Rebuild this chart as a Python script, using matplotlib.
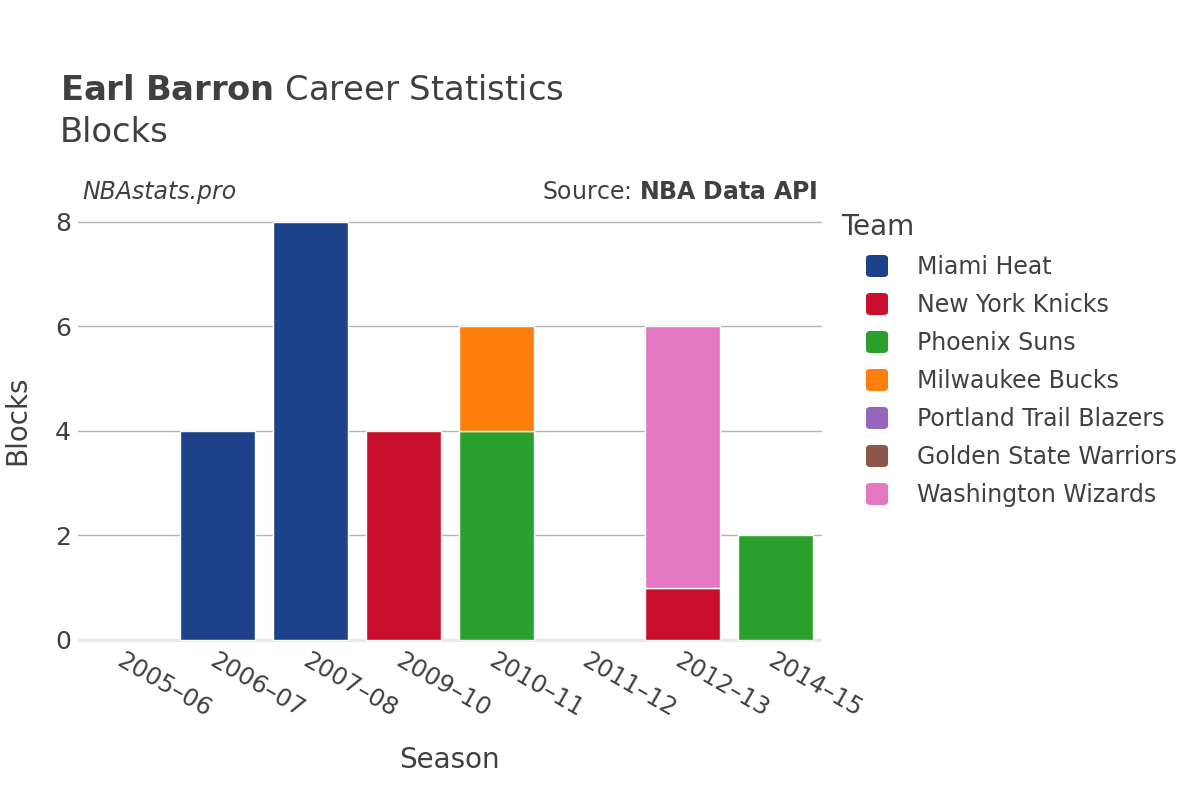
import numpy as np
import matplotlib
matplotlib.use("Agg")
import matplotlib.pyplot as plt
from matplotlib.patches import FancyBboxPatch

# -------------------------------------------------------------------------
# Data
# -------------------------------------------------------------------------
seasons = ["2005–06", "2006–07", "2007–08", "2009–10",
           "2010–11", "2011–12", "2012–13", "2014–15"]

teams = ["Miami Heat", "New York Knicks", "Phoenix Suns", "Milwaukee Bucks",
         "Portland Trail Blazers", "Golden State Warriors", "Washington Wizards"]

team_colors = ["#1d428a", "#c8102e", "#2ca02c", "#ff7f0e",
               "#9467bd", "#8c564b", "#e377c2"]

# blocks per season, one list per team (same order as seasons)
miami_heat = [0, 4, 8, 0, 0, 0, 0, 0]
new_york_knicks = [0, 0, 0, 4, 0, 0, 1, 0]
phoenix_suns = [0, 0, 0, 0, 4, 0, 0, 2]
milwaukee_bucks = [0, 0, 0, 0, 2, 0, 0, 0]
portland_trail_blazers = [0, 0, 0, 0, 0, 0, 0, 0]
golden_state_warriors = [0, 0, 0, 0, 0, 0, 0, 0]
washington_wizards = [0, 0, 0, 0, 0, 0, 5, 0]

team_values = [miami_heat, new_york_knicks, phoenix_suns, milwaukee_bucks,
               portland_trail_blazers, golden_state_warriors, washington_wizards]

yticks = [0, 2, 4, 6, 8]

# -------------------------------------------------------------------------
# Figure
# -------------------------------------------------------------------------
W, H = 1200, 800
fig = plt.figure(figsize=(12, 8), dpi=100)
plt.rcParams['font.family'] = ['DejaVu Sans']
text_col = "#404040"

def fx(px):
    return px / W

def fy(py):
    return 1 - py / H

ax = fig.add_axes([fx(78), fy(642), fx(822) - fx(78), fy(200) - fy(642)])

x = np.arange(len(seasons))
bottom = np.zeros(len(seasons))
for name, vals, col in zip(teams, team_values, team_colors):
    vals = np.array(vals, dtype=float)
    nz = vals > 0
    # zero-height traces draw nothing
    if nz.any():
        ax.bar(x[nz], vals[nz], width=0.8, bottom=bottom[nz], color=col,
               edgecolor="white", linewidth=1.0, zorder=3)
    bottom += vals

ax.set_xlim(-0.5, len(seasons) - 0.5)
ax.set_ylim(-0.04, 8.42)

# grid
for t in yticks[1:]:
    ax.axhline(t, color="#b4b4b4", linewidth=1.0, zorder=1)
ax.axhline(0, color="#e8e8e8", linewidth=2.5, zorder=2)

for s in ax.spines.values():
    s.set_visible(False)

ax.set_yticks(yticks)
ax.set_yticklabels([str(t) for t in yticks], fontsize=18, color=text_col)
ax.tick_params(axis="y", length=0, pad=5)
ax.set_xticks(x)
ax.set_xticklabels(seasons, fontsize=17.5, color=text_col, rotation=-30,
                   ha="left", va="top", rotation_mode="anchor")
ax.tick_params(axis="x", length=0, pad=5)

fig.text(fx(17), fy(420), "Blocks", fontsize=20, color=text_col,
         rotation=90, ha="center", va="center")
fig.text(fx(449), fy(760), "Season", fontsize=20, color=text_col,
         ha="center", va="center")

# titles
fig.text(fx(60), fy(90), r"$\bf{Earl\ Barron}$" + " Career Statistics",
         fontsize=24.3, color=text_col, ha="left", va="center")
fig.text(fx(60), fy(132), "Blocks", fontsize=24.3, color=text_col,
         ha="left", va="center")
fig.text(fx(82), fy(192), "NBAstats.pro", fontsize=17, color=text_col,
         style="italic", ha="left", va="center")
fig.text(fx(818), fy(192), "Source: " + r"$\bf{NBA\ Data\ API}$", fontsize=17,
         color=text_col, ha="right", va="center")

# legend
fig.text(fx(841), fy(227), "Team", fontsize=20, color=text_col,
         ha="left", va="center")
for i, (name, col) in enumerate(zip(teams, team_colors)):
    yc = 266 + i * 38
    box = FancyBboxPatch((fx(866), fy(yc + 11)), fx(22), fy(0) - fy(22),
                         boxstyle="round,pad=0,rounding_size=0.004",
                         transform=fig.transFigure, facecolor=col,
                         edgecolor="none")
    fig.patches.append(box)
    fig.text(fx(917), fy(yc + 1), name, fontsize=17, color=text_col,
             ha="left", va="center")

fig.savefig("out.png", dpi=100, facecolor="white")
